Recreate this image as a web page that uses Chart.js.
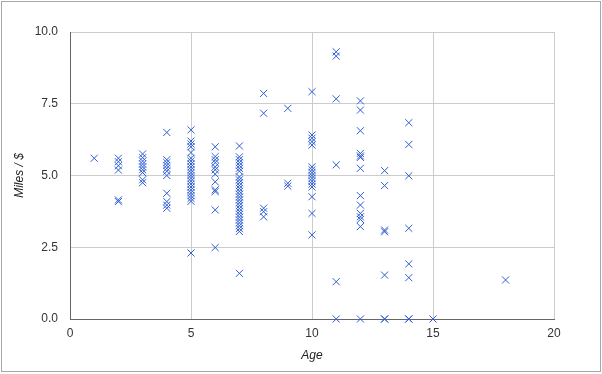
<!DOCTYPE html>
<html>
<head>
<meta charset="utf-8">
<script src="https://cdn.jsdelivr.net/npm/chart.js@4/dist/chart.umd.min.js"></script>
<style>
  html, body { margin: 0; padding: 0; background: #fff; }
</style>
</head>
<body>
<canvas id="myChart" width="602" height="374"></canvas>
<script>
// age of car (x) against miles per dollar (y), one entry per point
const ages = [
  1,
  2, 2, 2, 2, 2, 2,
  3, 3, 3, 3, 3, 3, 3, 3, 3,
  4, 4, 4, 4, 4, 4, 4, 4, 4, 4, 4,
  5, 5, 5, 5, 5, 5, 5, 5, 5, 5, 5, 5, 5, 5, 5, 5, 5, 5, 5, 5, 5, 5,
  6, 6, 6, 6, 6, 6, 6, 6, 6, 6, 6, 6,
  7, 7, 7, 7, 7, 7, 7, 7, 7, 7, 7, 7, 7, 7, 7, 7, 7, 7, 7, 7, 7, 7, 7, 7, 7, 7, 7, 7,
  8, 8, 8, 8, 8,
  9, 9, 9,
  10, 10, 10, 10, 10, 10, 10, 10, 10, 10, 10, 10, 10, 10, 10, 10,
  11, 11, 11, 11, 11, 11,
  12, 12, 12, 12, 12, 12, 12, 12, 12, 12, 12, 12, 12, 12,
  13, 13, 13, 13, 13, 13, 13,
  14, 14, 14, 14, 14, 14, 14, 14,
  15,
  18
];
const milesPerDollar = [
  5.6,
  5.6, 5.48, 5.34, 5.19, 4.15, 4.09,
  5.75, 5.62, 5.5, 5.4, 5.3, 5.2, 5.1, 4.85, 4.75,
  6.5, 5.55, 5.45, 5.35, 5.25, 5.15, 5.0, 4.38, 4.09, 3.97, 3.86,
  6.59, 6.2, 6.1, 6.0, 5.8, 5.6, 5.5, 5.4, 5.3, 5.2, 5.1, 5.0, 4.9, 4.8, 4.7, 4.6, 4.5, 4.4, 4.3, 4.2, 4.1, 2.3,
  6.0, 5.66, 5.55, 5.45, 5.3, 5.2, 5.05, 4.78, 4.5, 4.44, 3.8, 2.49,
  6.03, 5.65, 5.55, 5.45, 5.35, 5.25, 5.15, 4.95, 4.85, 4.75, 4.65, 4.55, 4.45, 4.35,
  4.25, 4.15, 4.05, 3.95, 3.85, 3.75, 3.65, 3.55, 3.45, 3.35, 3.25, 3.15, 3.05, 1.59,
  7.86, 7.17, 3.86, 3.74, 3.56,
  7.34, 4.73, 4.63,
  7.92, 6.41, 6.3, 6.18, 6.06, 5.3, 5.2, 5.1, 5.0, 4.9, 4.8, 4.7, 4.6, 4.26, 3.68, 2.93,
  9.31, 9.16, 7.67, 5.37, 1.3, 0,
  7.6, 7.28, 6.56, 5.77, 5.68, 5.63, 5.25, 4.3, 3.97, 3.68, 3.56, 3.47, 3.22, 0,
  5.17, 4.65, 3.1, 3.04, 1.53, 0, 0,
  6.84, 6.08, 4.99, 3.16, 1.92, 1.44, 0, 0,
  0,
  1.36
];
const xTicks = [0, 5, 10, 15, 20];
const yTicks = [0, 2.5, 5, 7.5, 10];

const points = ages.map((a, i) => ({ x: a, y: milesPerDollar[i] }));

const FONT = "Arial, 'Liberation Sans', sans-serif";

// white background + thin grey frame round the whole chart
const framePlugin = {
  id: 'frame',
  beforeDraw(chart) {
    const ctx = chart.ctx;
    ctx.save();
    ctx.fillStyle = '#fff';
    ctx.fillRect(0, 0, chart.width, chart.height);
    ctx.strokeStyle = '#a8a8a8';
    ctx.lineWidth = 1;
    ctx.strokeRect(1.5, 1.5, chart.width - 3, chart.height - 4);
    ctx.restore();
  }
};

new Chart(document.getElementById('myChart').getContext('2d'), {
  type: 'scatter',
  data: {
    datasets: [{
      data: points,
      pointStyle: 'crossRot',
      pointRadius: 5,
      pointHoverRadius: 5,
      borderWidth: 1,
      borderColor: '#2f5fd6',
      backgroundColor: '#2f5fd6',
      clip: false
    }]
  },
  options: {
    responsive: false,
    animation: false,
    layout: { padding: { top: 32, right: 48, bottom: 8, left: 4 } },
    plugins: { legend: { display: false }, tooltip: { enabled: false } },
    scales: {
      x: {
        type: 'linear',
        min: 0,
        max: 20,
        afterBuildTicks: s => { s.ticks = xTicks.map(v => ({ value: v })); },
        afterFit: s => { s.height = 366 - 319; },
        grid: { color: '#cccccc', drawTicks: false },
        border: { color: '#666666' },
        ticks: { padding: 7, color: '#333', font: { family: FONT, size: 12 } },
        title: {
          display: true,
          text: 'Age',
          color: '#222',
          padding: { top: 0, bottom: 3 },
          font: { family: FONT, size: 12, style: 'italic' }
        }
      },
      y: {
        type: 'linear',
        min: 0,
        max: 10,
        afterBuildTicks: s => { s.ticks = yTicks.map(v => ({ value: v })); },
        afterFit: s => { s.width = 70 - 4; },
        grid: { color: '#cccccc', drawTicks: false },
        border: { color: '#666666' },
        ticks: {
          padding: 12,
          color: '#333',
          font: { family: FONT, size: 12 },
          callback: v => v.toFixed(1)
        },
        title: {
          display: true,
          text: 'Miles / $',
          color: '#222',
          padding: { top: 8, bottom: 0 },
          font: { family: FONT, size: 12, style: 'italic' }
        }
      }
    }
  },
  plugins: [framePlugin]
});
</script>
</body>
</html>
